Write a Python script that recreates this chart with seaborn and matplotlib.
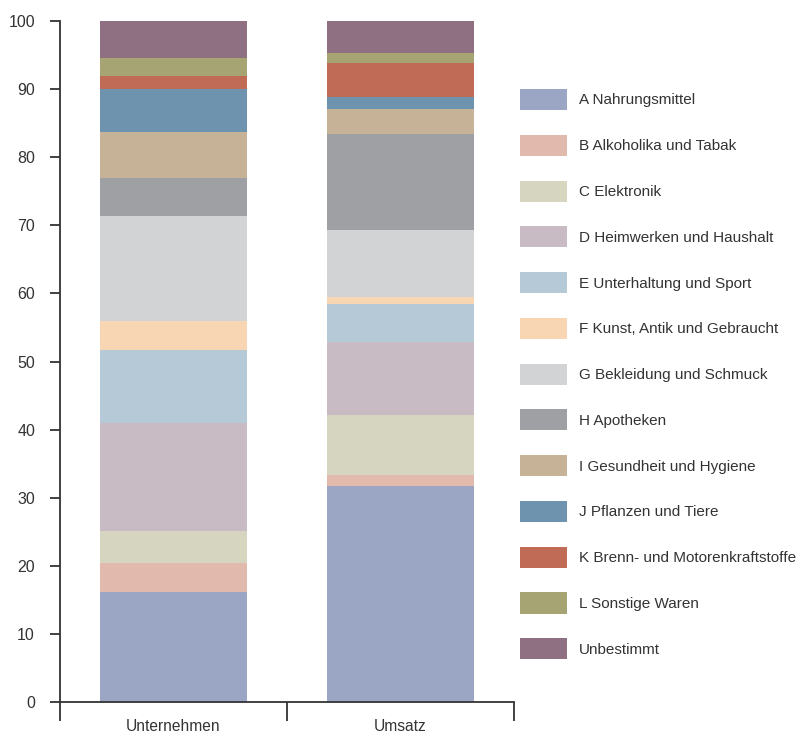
import matplotlib
matplotlib.use("Agg")
import matplotlib.pyplot as plt
from matplotlib.patches import Patch
import numpy as np
import pandas as pd
import seaborn as sns

# Anteile (%) nach Warengruppe
groups = ["Unternehmen", "Umsatz"]
segments = [
    "A Nahrungsmittel",
    "B Alkoholika und Tabak",
    "C Elektronik",
    "D Heimwerken und Haushalt",
    "E Unterhaltung und Sport",
    "F Kunst, Antik und Gebraucht",
    "G Bekleidung und Schmuck",
    "H Apotheken",
    "I Gesundheit und Hygiene",
    "J Pflanzen und Tiere",
    "K Brenn- und Motorenkraftstoffe",
    "L Sonstige Waren",
    "Unbestimmt",
]
unternehmen = [16.15, 4.26, 4.70, 15.86, 10.72, 4.26, 15.42, 5.58, 6.75, 6.27, 1.95, 2.65, 5.43]
umsatz = [31.72, 1.61, 8.81, 10.72, 5.58, 1.03, 9.84, 14.10, 3.67, 1.76, 4.99, 1.47, 4.70]
colors = ["#9BA5C4", "#E2BAAD", "#D5D5C0", "#C8BBC3", "#B6C9D7", "#F8D6B4",
          "#D2D3D5", "#9FA0A4", "#C6B397", "#6E93AF", "#C06B56", "#A6A472", "#8F7083"]
yticks = [0, 10, 20, 30, 40, 50, 60, 70, 80, 90, 100]

sns.set_theme(style="ticks")
plt.rcParams["font.family"] = ["Liberation Sans", "DejaVu Sans"]
ink = "#333333"

fig = plt.figure(figsize=(7.98, 7.35), dpi=100)
ax = fig.add_axes([60 / 798, 1 - 702 / 735, 454 / 798, 681 / 735])

bottom = np.zeros(len(groups))
for i, seg in enumerate(segments):
    vals = np.array([unternehmen[i], umsatz[i]])
    df = pd.DataFrame({"gruppe": groups, "anteil": vals})
    sns.barplot(data=df, x="gruppe", y="anteil", order=groups, color=colors[i],
                saturation=1, width=0.65, bottom=bottom, ax=ax, linewidth=0,
                edgecolor="none")
    bottom = bottom + vals

ax.set_xlim(-0.5, 1.5)
ax.set_ylim(0, 100)
ax.set_yticks(yticks)
ax.set_xticks([0, 1])
ax.set_xticklabels(groups)
ax.set_xticks([-0.5, 0.5, 1.5], minor=True)
ax.set_xlabel("")
ax.set_ylabel("")

for side in ["top", "right"]:
    ax.spines[side].set_visible(False)
for side in ["left", "bottom"]:
    ax.spines[side].set_color(ink)
    ax.spines[side].set_linewidth(1.3)

ax.tick_params(axis="y", direction="out", length=7, width=1.3, color=ink,
               labelcolor=ink, labelsize=11.5, pad=11)
ax.tick_params(axis="x", which="major", length=0, labelcolor=ink, labelsize=11.2, pad=12)
ax.tick_params(axis="x", which="minor", direction="out", length=14, width=1.3, color=ink)

handles = [Patch(facecolor=c, edgecolor="none") for c in colors]
fig.legend(handles, segments, loc="upper left", bbox_to_anchor=(520 / 798, 1 - 89 / 735),
           frameon=False, fontsize=11, labelcolor=ink, handlelength=3.07,
           handleheight=1.74, handletextpad=0.78, labelspacing=1.62, borderpad=0,
           borderaxespad=0)

fig.savefig("out.png", dpi=100)
